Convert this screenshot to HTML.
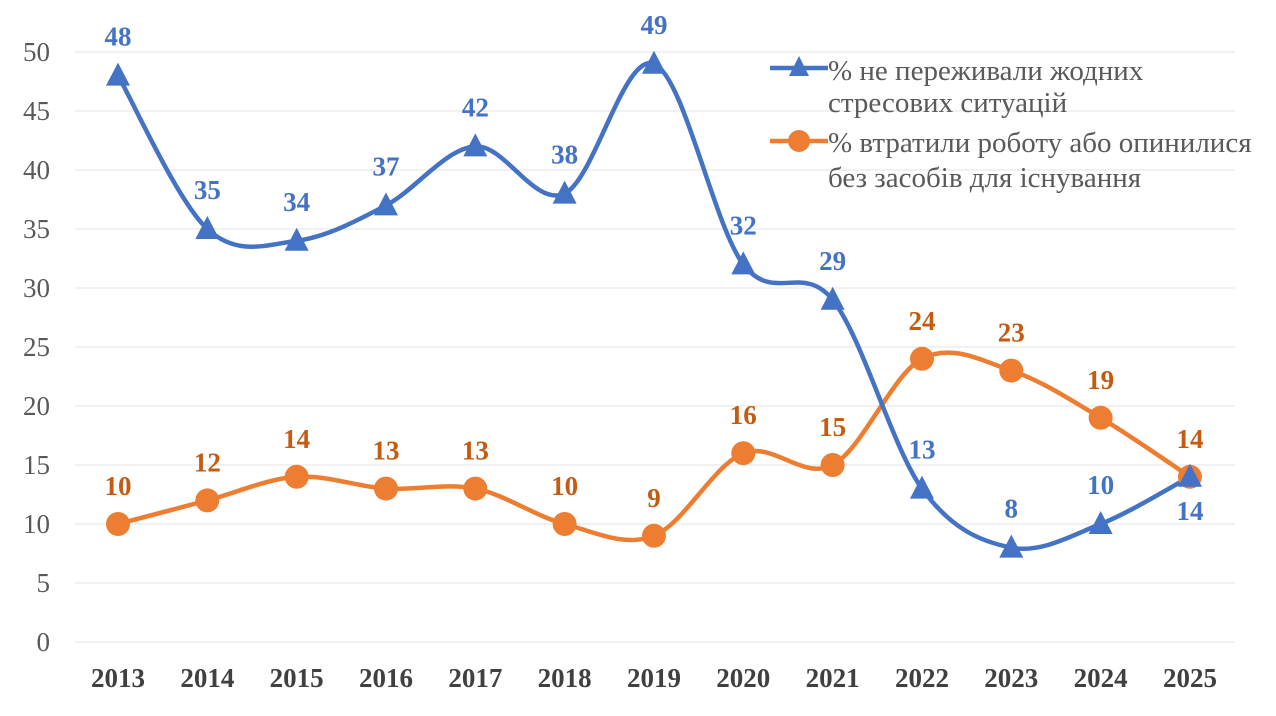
<!DOCTYPE html>
<html><head><meta charset="utf-8"><style>
body{margin:0;background:#fff;}
svg text{font-family:"Liberation Serif",serif;}
</style></head><body>
<svg id="c" width="1276" height="711" xmlns="http://www.w3.org/2000/svg">
<g id="grid"></g>
<g id="axes" font-size="27" fill="#595959"></g>
<g id="series"></g>
<g id="legend">
<line x1="770" y1="68" x2="828" y2="68" stroke="#4472C4" stroke-width="4.5"/>
<polygon points="799,56 789,76 809,76" fill="#4472C4"/>
<text x="828" y="80" font-size="29" fill="#595959">% не переживали жодних</text>
<text x="828" y="112" font-size="29" fill="#595959">стресових ситуацій</text>
<line x1="770" y1="141" x2="828" y2="141" stroke="#ED7D31" stroke-width="4.5"/>
<circle cx="799" cy="141" r="11" fill="#ED7D31"/>
<text x="828" y="152" font-size="29" fill="#595959">% втратили роботу або опинилися</text>
<text x="828" y="187" font-size="29" fill="#595959">без засобів для існування</text>
</g>
</svg>
<script>
const NS="http://www.w3.org/2000/svg";
function el(p,t,a,txt){const e=document.createElementNS(NS,t);for(const k in a)e.setAttribute(k,a[k]);if(txt!==undefined)e.textContent=txt;document.getElementById(p).appendChild(e);return e;}
const X=i=>118+i*89.33, Y=v=>642-v*11.8;
for(let v=0;v<=50;v+=5){
 el("grid","line",{x1:75,x2:1235,y1:Y(v),y2:Y(v),stroke:"#e3e3e3","stroke-width":1});
 el("axes","text",{x:50,y:Y(v)+9,"text-anchor":"end"},v);
}
for(let i=0;i<13;i++) el("axes","text",{x:X(i),y:687,"text-anchor":"middle","font-weight":"bold","fill":"#404040","font-size":"27"},2013+i);
const blue=[48,35,34,37,42,38,49,32,29,13,8,10,14];
const orange=[10,12,14,13,13,10,9,16,15,24,23,19,14];
function path(d){const p=d.map((v,i)=>[X(i),Y(v)]);let s=`M${p[0][0]},${p[0][1]}`;
for(let i=0;i<p.length-1;i++){const p0=p[i-1]||p[i],p1=p[i],p2=p[i+1],p3=p[i+2]||p2;
const c1=[p1[0]+(p2[0]-p0[0])/6,p1[1]+(p2[1]-p0[1])/6],c2=[p2[0]-(p3[0]-p1[0])/6,p2[1]-(p3[1]-p1[1])/6];
s+=` C${c1[0]},${c1[1]} ${c2[0]},${c2[1]} ${p2[0]},${p2[1]}`;}return s;}
el("series","path",{d:path(orange),fill:"none",stroke:"#ED7D31","stroke-width":4.5});
el("series","path",{d:path(blue),fill:"none",stroke:"#4472C4","stroke-width":4.5});
orange.forEach((v,i)=>{el("series","circle",{cx:X(i),cy:Y(v),r:12,fill:"#ED7D31"});
 el("series","text",{x:X(i),y:Y(v)-29,"text-anchor":"middle","font-size":"27","font-weight":"bold",fill:"#C55A11"},v);});
blue.forEach((v,i)=>{const x=X(i),y=Y(v);el("series","polygon",{points:`${x},${y-13} ${x-12},${y+10} ${x+12},${y+10}`,fill:"#4472C4"});
 const ly=i==12?y+43:y-30;
 el("series","text",{x:x,y:ly,"text-anchor":"middle","font-size":"27","font-weight":"bold",fill:"#4472C4"},v);});
</script>
</body></html>
